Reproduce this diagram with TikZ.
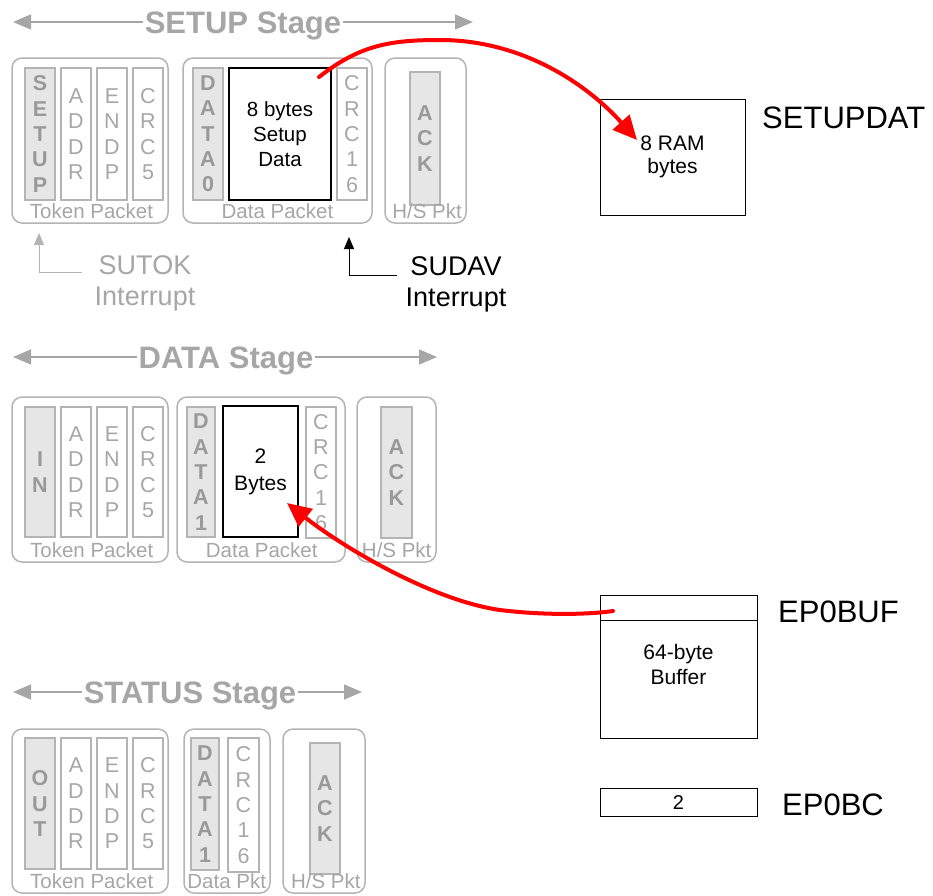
\documentclass[tikz,border=0pt]{standalone}
\usepackage{fontspec}
\setmainfont{Liberation Sans}
\usetikzlibrary{arrows.meta}
\definecolor{lgray}{HTML}{B4B4B4}
\definecolor{tgray}{HTML}{A6A6A6}
\definecolor{bgray}{HTML}{999999}
\definecolor{fgray}{HTML}{E6E6E6}
\definecolor{ured}{HTML}{FF0000}
\newcommand{\fsz}[2]{\fontsize{#1}{#2}\selectfont}
\begin{document}
\begin{tikzpicture}[x=1pt,y=-1pt,
  pkt/.style={draw=lgray, line width=1.5pt, rounded corners=10pt, inner sep=0pt, minimum height=165pt},
  fld/.style={draw=lgray, line width=1.2pt, inner sep=0pt, minimum width=30pt, minimum height=132pt, align=center, text=tgray, font=\fsz{21.5}{25.3}},
  fldg/.style={fld, fill=fgray, text=bgray, font=\fsz{21.5}{25.3}\bfseries},
  dbox/.style={draw=black, line width=2pt, inner sep=0pt, minimum height=132pt, align=center, font=\fsz{20.5}{25}},
  plabel/.style={anchor=base, text=tgray, font=\fsz{20.5}{24}, inner sep=0pt},
  stitle/.style={text=tgray, font=\fsz{31}{36}\bfseries, text height=22pt, text depth=0pt, inner sep=2pt},
  sarrow/.style={draw=tgray, line width=1.5pt, -{Triangle[length=18pt,width=15pt]}},
  iarrow/.style={line width=1pt, -{Triangle[length=12pt,width=10pt]}},
  itext/.style={align=center, font=\fsz{27}{31}, inner sep=0pt},
  rbox/.style={draw=black, line width=1pt, inner sep=0pt, align=center},
  reglabel/.style={anchor=base west, font=\fsz{31}{36}, inner sep=0pt},
  redarrow/.style={draw=ured, line width=4pt, line cap=round, -{Triangle[length=24pt,width=22pt]}}
]
\useasboundingbox (0,0) rectangle (933,895);

% ---------------- SETUP stage ----------------
\node[stitle] (st1) at (243,22) {SETUP Stage};
\coordinate (st1l) at (13,22);
\coordinate (st1r) at (473,22);
\draw[sarrow] (st1.west) -- (st1l);
\draw[sarrow] (st1.east) -- (st1r);

\node[pkt, minimum width=156pt] (tok1) at (90,140.5) {};
\node[fldg] (pid1) at (40,134) {S\\E\\T\\U\\P};
\node[fld] (addr1) at (76,134) {A\\D\\D\\R};
\node[fld] (endp1) at (112,134) {E\\N\\D\\P};
\node[fld] (crcf1) at (148,134) {C\\R\\C\\5};
\node[plabel] (tl1) at (91.5,218) {Token Packet};

\node[pkt, minimum width=189pt] (dp1) at (277.5,140.5) {};
\node[fldg] (dpid1) at (208,134) {D\\A\\T\\A\\0};
\node[dbox, minimum width=102pt] (sdata) at (280,134) {8 bytes\\Setup\\Data};
\node[fld] (crcs1) at (352,134) {C\\R\\C\\1\\6};
\node[plabel] (dl1) at (277.5,218) {Data Packet};

\node[pkt, minimum width=81pt] (hs1) at (425.5,140.5) {};
\node[fldg, minimum height=133pt] (ack1) at (425,138.5) {A\\C\\K};
\node[plabel] (hl1) at (427,218) {H/S Pkt};

% interrupts
\coordinate (sutokA) at (82,272);
\coordinate (sutokT) at (39,233);
\draw[iarrow, draw=lgray] (sutokA) -| (sutokT);
\node[itext, text=tgray] (sutok) at (145,283.5) {SUTOK\\Interrupt};
\coordinate (sudavA) at (397,275);
\coordinate (sudavT) at (349,237);
\draw[iarrow] (sudavA) -| (sudavT);
\node[itext] (sudav) at (456,284.5) {SUDAV\\Interrupt};

% SETUPDAT
\node[rbox, minimum width=145pt, minimum height=116pt, font=\fsz{21}{23.5}] (setupdat) at (672.5,157) {8 RAM\\bytes};
\node[reglabel] (setupdatl) at (762,128) {SETUPDAT};

% ---------------- DATA stage ----------------
\node[stitle] (st2) at (226,357) {DATA Stage};
\coordinate (st2l) at (13,357);
\coordinate (st2r) at (437,357);
\draw[sarrow] (st2.west) -- (st2l);
\draw[sarrow] (st2.east) -- (st2r);

\node[pkt, minimum width=156pt] (tok2) at (90,479.5) {};
\node[fldg, minimum height=130pt] (pid2) at (40,472) {I\\N};
\node[fld, minimum height=130pt] (addr2) at (76,472) {A\\D\\D\\R};
\node[fld, minimum height=130pt] (endp2) at (112,472) {E\\N\\D\\P};
\node[fld, minimum height=130pt] (crcf2) at (148,472) {C\\R\\C\\5};
\node[plabel] (tl2) at (91.7,557) {Token Packet};

\node[pkt, minimum width=168pt] (dp2) at (261,479.5) {};
\node[fldg, minimum width=28pt, minimum height=130pt] (dpid2) at (201,472) {D\\A\\T\\A\\1};
\node[dbox, minimum width=75pt, minimum height=131pt, font=\fsz{21}{27}] (bytes2) at (260.5,471.5) {2\\Bytes};
\node[fld, minimum height=131pt] (crcs2) at (321,472.5) {C\\R\\C\\1\\6};
\node[plabel] (dl2) at (261.7,557) {Data Packet};

\node[pkt, minimum width=79pt] (hs2) at (396.5,479.5) {};
\node[fldg, minimum width=31pt, minimum height=131pt] (ack2) at (396.5,472.5) {A\\C\\K};
\node[plabel] (hl2) at (396.7,557) {H/S Pkt};

% EP0BUF
\node[rbox, minimum width=157pt, minimum height=143pt, font=\fsz{21}{24.5}, text depth=4pt] (ep0buf) at (678.5,666.5) {64-byte\\Buffer};
\coordinate (divy) at (0,620);
\draw[line width=1pt] (ep0buf.west |- divy) -- (ep0buf.east |- divy);
\node[reglabel] (ep0bufl) at (778,622) {EP0BUF};

% EP0BC
\node[rbox, minimum width=157pt, minimum height=28pt, font=\fsz{20}{22}] (ep0bc) at (678.5,802) {2};
\node[reglabel] (ep0bcl) at (782,815) {EP0BC};

% ---------------- STATUS stage ----------------
\node[stitle] (st3) at (190,692) {STATUS Stage};
\coordinate (st3l) at (13,692);
\coordinate (st3r) at (362,692);
\draw[sarrow] (st3.west) -- (st3l);
\draw[sarrow] (st3.east) -- (st3r);

\node[pkt, minimum width=156pt, minimum height=164pt] (tok3) at (90,811) {};
\node[fldg, minimum height=131pt] (pid3) at (40,803.5) {O\\U\\T};
\node[fld, minimum height=131pt] (addr3) at (76,803.5) {A\\D\\D\\R};
\node[fld, minimum height=131pt] (endp3) at (112,803.5) {E\\N\\D\\P};
\node[fld, minimum height=131pt] (crcf3) at (148,803.5) {C\\R\\C\\5};
\node[plabel] (tl3) at (91.7,888) {Token Packet};

\node[pkt, minimum width=86pt, minimum height=164pt] (dp3) at (227,811) {};
\node[fldg, minimum width=28pt, minimum height=132pt] (dpid3) at (205,804) {D\\A\\T\\A\\1};
\node[fld, minimum width=31pt, minimum height=134pt] (crcs3) at (243.5,805) {C\\R\\C\\1\\6};
\node[plabel] (dl3) at (226.7,888) {Data Pkt};

\node[pkt, minimum width=82pt, minimum height=164pt] (hs3) at (324,811) {};
\node[fldg, minimum height=131pt] (ack3) at (325,808.5) {A\\C\\K};
\node[plabel] (hl3) at (325.8,888) {H/S Pkt};

% ---------------- red transfers ----------------
\coordinate (r1s) at (319,77);
\coordinate (r1e) at (637,140);
\draw[redarrow] (r1s) .. controls (360,45) and (390,40) .. (440,40) .. controls (520,40) and (585,82) .. (r1e);
\coordinate (r2s) at (613,611);
\coordinate (r2e) at (287,503);
\draw[redarrow] (r2s) .. controls (585,615) and (540,615) .. (500,610) .. controls (430,600) and (340,545) .. (r2e);
\end{tikzpicture}
\end{document}
